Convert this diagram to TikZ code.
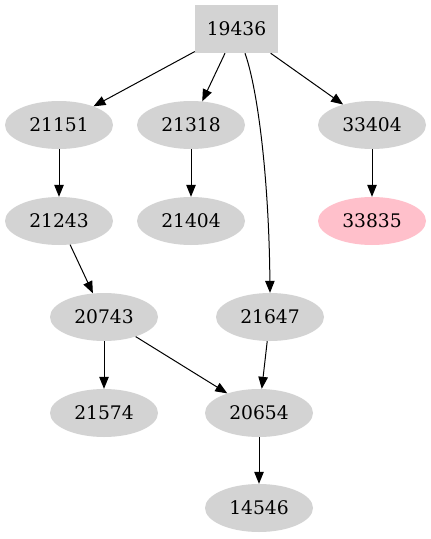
\documentclass[tikz,border=0pt]{standalone}
\usepackage{fontspec}
\setmainfont{DejaVu Serif}
\usetikzlibrary{shapes.geometric,arrows.meta}

\begin{document}
\begin{tikzpicture}[x=1pt,y=-1pt,
    every node/.style={font=\fontsize{18.7}{22}\selectfont,inner sep=0pt},
    pnode/.style={ellipse,fill=lightgray,minimum width=108pt,minimum height=48pt},
    rnode/.style={rectangle,fill=lightgray,minimum width=83pt,minimum height=48pt},
    edge/.style={line width=1pt,-{Triangle[length=12pt,width=9.5pt]}}]
    \definecolor{lightgray}{HTML}{D3D3D3}
    \definecolor{pink}{HTML}{FFC0CB}
    \useasboundingbox (0,0) rectangle (431,539);
    % nodes
    \node[rnode] (n19436) at (236.5,29) {19436};
    \node[pnode] (n21151) at (59,125) {21151};
    \node[pnode] (n21318) at (191,125) {21318};
    \node[pnode] (n33404) at (372,125) {33404};
    \node[pnode] (n21243) at (59,221) {21243};
    \node[pnode] (n21404) at (191,221) {21404};
    \node[pnode,fill=pink] (n33835) at (372,221) {33835};
    \node[pnode] (n20743) at (104,317) {20743};
    \node[pnode] (n21647) at (270,317) {21647};
    \node[pnode] (n21574) at (104,413) {21574};
    \node[pnode] (n20654) at (259,413) {20654};
    \node[pnode] (n14546) at (259,508) {14546};
    % edges
    \draw[edge] (n19436) -- (n21151);
    \draw[edge] (n19436) -- (n21318);
    \draw[edge] (n19436) -- (n33404);
    \draw[edge] ([xshift=8.5pt]n19436.south) .. controls (258,90) and (269,180) .. (n21647.north);
    \draw[edge] (n21151) -- (n21243);
    \draw[edge] (n21318) -- (n21404);
    \draw[edge] (n33404) -- (n33835);
    \draw[edge] (n21243) -- (n20743);
    \draw[edge] (n20743) -- (n21574);
    \draw[edge] (n20743) -- (n20654);
    \draw[edge] (n21647) -- (n20654);
    \draw[edge] (n20654) -- (n14546);
\end{tikzpicture}
\end{document}
